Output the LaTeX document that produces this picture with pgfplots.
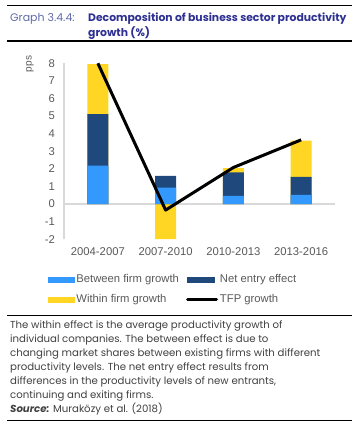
\documentclass[border=0pt]{standalone}
\usepackage{pgfplots}
\pgfplotsset{compat=1.18}
\usepackage{fontspec}
\setmainfont{Liberation Sans}
\newfontfamily\gothic{Poppins}
\definecolor{betw}{RGB}{51,153,255}
\definecolor{netent}{RGB}{31,73,125}
\definecolor{within}{RGB}{255,214,35}
\definecolor{txt}{RGB}{89,89,89}
\definecolor{note}{RGB}{64,64,64}
\definecolor{ttl}{RGB}{46,49,146}
\definecolor{ttlg}{RGB}{96,106,170}
\begin{document}
\begin{tikzpicture}
\path[use as bounding box] (0,0) rectangle (359bp,-429bp);
\draw[line width=1.3bp] (7bp,-5.5bp) -- (352bp,-5.5bp);
\draw[line width=1.3bp] (7bp,-41bp) -- (352bp,-41bp);
\node[anchor=base west, inner sep=0, text=ttlg, font=\gothic\fontsize{11}{15}\selectfont] at (10bp,-21bp) {Graph 3.4.4:};
\node[anchor=base west, inner sep=0, text=ttl, font=\gothic\bfseries\fontsize{10.85}{15}\selectfont] at (88bp,-21bp) {Decomposition of business sector productivity};
\node[anchor=base west, inner sep=0, text=ttl, font=\gothic\bfseries\fontsize{10.85}{15}\selectfont] at (88bp,-36bp) {growth (\%)};
\node[rotate=90, anchor=center, inner sep=0, text=txt, font=\fontsize{10.1}{12}\selectfont] at (30bp,-64bp) {pps};
\begin{axis}[
  at={(64bp,-239.3bp)}, anchor=south west, scale only axis,
  width=271bp, height=176bp,
  xmin=-0.5, xmax=3.5, ymin=-2, ymax=8,
  axis lines*=left,
  x axis line style={draw=none},
  y axis line style={draw=black!15, line width=1bp},
  xtick={0,1,2,3},
  xticklabels={2004-2007,2007-2010,2010-2013,2013-2016},
  ytick={-2,-1,0,1,2,3,4,5,6,7,8},
  major tick length=0pt,
  tick label style={font=\fontsize{11.3}{13}\selectfont, text=txt},
  yticklabel style={inner sep=0pt, anchor=east, xshift=-9bp},
  xticklabel style={inner sep=0pt, anchor=north, yshift=-8bp},
  /pgf/number format/assume math mode=true,
  ybar, bar width=21bp, bar shift=0pt,
  clip=false,
  legend columns=2,
  legend cell align=left,
  legend style={draw=none, fill=none, inner sep=0pt, outer sep=0pt,
    at={(axis description cs:-0.059,-0.19)}, anchor=north west,
    font=\fontsize{11.3}{13}\selectfont, text=txt,
    /tikz/every even column/.append style={column sep=5bp},
    row sep=6bp},
]
\addlegendimage{legend image code/.code={\fill[betw] (0bp,-2.5bp) rectangle (26bp,2.5bp);}}
\addlegendentry{Between firm growth}
\addlegendimage{legend image code/.code={\fill[netent] (0bp,-2.5bp) rectangle (27bp,2.5bp);}}
\addlegendentry{Net entry effect}
\addlegendimage{legend image code/.code={\fill[within] (0bp,-2.5bp) rectangle (26bp,2.5bp);}}
\addlegendentry{Within firm growth}
\addlegendimage{legend image code/.code={\draw[black, line width=3bp, line cap=round] (0bp,0bp) -- (29bp,0bp);}}
\addlegendentry{TFP growth}
\draw[black!15, line width=1.3bp] (axis cs:-0.5,0) -- (axis cs:3.5,0);
% cumulative tops: between+net+within (positive), within negative from 0
\addplot[fill=within, draw=none, forget plot] coordinates {(0,7.95) (1,-1.99) (2,2.05) (3,3.60)};
\addplot[fill=netent, draw=none, forget plot] coordinates {(0,5.11) (1,1.61) (2,1.80) (3,1.55)};
\addplot[fill=betw, draw=none, forget plot] coordinates {(0,2.18) (1,0.94) (2,0.47) (3,0.53)};
\addplot[sharp plot, black, line width=3bp, line join=round, mark=none, forget plot] coordinates {(0,8.0) (1,-0.34) (2,2.08) (3,3.65)};
\end{axis}
\draw[line width=1.3bp] (7bp,-315.7bp) -- (352bp,-315.7bp);
\node[anchor=north west, inner sep=0, align=left, text=note, font=\gothic\fontsize{10.2}{14}\selectfont] at (10bp,-321bp) {The within effect is the average productivity growth of\\
individual companies. The between effect is due to\\
changing market shares between existing firms with different\\
productivity levels. The net entry effect results from\\
differences in the productivity levels of new entrants,\\
continuing and exiting firms.\\
\textbf{\textit{Source:}} Muraközy et al. (2018)};
\draw[line width=1.3bp] (7bp,-420.7bp) -- (352bp,-420.7bp);
\end{tikzpicture}
\end{document}
